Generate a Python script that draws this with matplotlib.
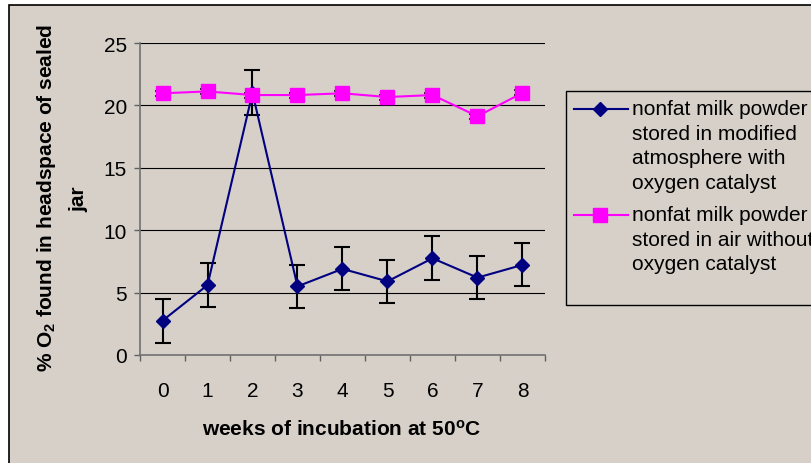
import matplotlib
matplotlib.use("Agg")
import matplotlib.pyplot as plt
from matplotlib.patches import Rectangle
from matplotlib.lines import Line2D

weeks = [0, 1, 2, 3, 4, 5, 6, 7, 8]
week_labels = ["0", "1", "2", "3", "4", "5", "6", "7", "8"]
modified = [2.75, 5.6, 21.0, 5.5, 6.9, 5.9, 7.75, 6.2, 7.22]
modified_err = [1.75, 1.75, 1.8, 1.72, 1.72, 1.74, 1.75, 1.75, 1.72]
air = [20.97, 21.12, 20.83, 20.83, 20.97, 20.67, 20.83, 19.13, 21.0]
air_err = [0.2, 0.2, 0.2, 0.2, 0.2, 0.2, 0.2, 0.2, 0.2]
yticks = [0, 5, 10, 15, 20, 25]
label_mod = "nonfat milk powder\nstored in modified\natmosphere with\noxygen catalyst"
label_air = "nonfat milk powder\nstored in air without\noxygen catalyst"

plt.rcParams['font.family'] = ['Liberation Sans', 'DejaVu Sans']
FS = 15
BG = '#D6D0C9'
W, H = 812, 464
fig = plt.figure(figsize=(W / 100, H / 100), dpi=100)
fig.patch.set_facecolor('white')

# outer chart frame
fig.patches.append(Rectangle((9 / W, -0.1), 1.1, (H - 6) / H + 0.1, transform=fig.transFigure,
                             facecolor=BG, edgecolor='black', linewidth=1.2, zorder=-5))

ax = fig.add_axes([140 / W, (H - 356) / H, 405 / W, 312 / H])
ax.set_zorder(2)
ax.patch.set_alpha(0)

for yv in yticks[1:]:
    ax.axhline(yv, color='black', linewidth=0.8, zorder=1)

ax.errorbar(weeks, modified, yerr=modified_err, fmt='none', ecolor='black',
            elinewidth=1.5, capsize=5.6, capthick=1.5, zorder=3)
ax.plot(weeks, modified, color='#000080', linewidth=1.5, marker='D', markersize=7.6,
        markerfacecolor='#000080', markeredgecolor='#000080', zorder=4)
ax.errorbar(weeks, air, yerr=air_err, fmt='none', ecolor='black',
            elinewidth=1.2, capsize=5.5, capthick=1.2, zorder=3)
ax.plot(weeks, air, color='#FF00FF', linewidth=1.5, marker='s', markersize=10,
        markerfacecolor='#FF00FF', markeredgecolor='#FF00FF', zorder=5)

ax.set_xlim(-0.5, 8.5)
ax.set_ylim(0, 25)
ax.set_yticks(yticks)
ax.set_yticklabels([str(v) for v in yticks], fontsize=FS)
ax.set_xticks(weeks)
ax.set_xticklabels(week_labels, fontsize=FS)
ax.set_xticks([i - 0.5 for i in range(10)], minor=True)
ax.tick_params(axis='x', which='major', length=0, pad=19)
ax.tick_params(axis='x', which='minor', length=4.5, width=1, color='#606060', direction='out')
ax.tick_params(axis='y', which='major', length=4.5, width=1, color='#606060', direction='out', pad=5)
for s in ['top', 'right']:
    ax.spines[s].set_visible(False)
for s in ['left', 'bottom']:
    ax.spines[s].set_color('#707070')
    ax.spines[s].set_linewidth(1.2)

fig.text(342 / W, 1 - 430 / H, "weeks of incubation at 50$\\mathregular{^o}$C",
         fontsize=FS, fontweight='bold', ha='center', va='center')
fig.text(47 / W, 1 - 198 / H, "% O$\\mathregular{_2}$ found in headspace of sealed",
         rotation=90, fontsize=FS, fontweight='bold', ha='center', va='center')
fig.text(79 / W, 1 - 199 / H, "jar", rotation=90, fontsize=FS, fontweight='bold',
         ha='center', va='center')

# legend box
fig.patches.append(Rectangle((566 / W, 1 - 306 / H), 0.5, (306 - 92) / H, transform=fig.transFigure,
                             facecolor=BG, edgecolor='black', linewidth=1.0, zorder=1))
lh = 24.4
y0 = 110
fig.lines.append(Line2D([574 / W, 628 / W], [1 - y0 / H] * 2, transform=fig.transFigure,
                        color='#000080', linewidth=1.5, zorder=2))
fig.lines.append(Line2D([600 / W], [1 - y0 / H], transform=fig.transFigure, marker='D',
                        markersize=7.6, color='#000080', zorder=3))
for i, line in enumerate(label_mod.split("\n")):
    fig.text(632 / W, 1 - (y0 + i * lh) / H, line, fontsize=FS, ha='left', va='center', zorder=3)
y1 = 216
fig.lines.append(Line2D([574 / W, 628 / W], [1 - y1 / H] * 2, transform=fig.transFigure,
                        color='#FF00FF', linewidth=1.5, zorder=2))
fig.lines.append(Line2D([600 / W], [1 - y1 / H], transform=fig.transFigure, marker='s',
                        markersize=10, color='#FF00FF', zorder=3))
for i, line in enumerate(label_air.split("\n")):
    fig.text(632 / W, 1 - (y1 + i * lh) / H, line, fontsize=FS, ha='left', va='center', zorder=3)

fig.savefig("out.png", dpi=100)
